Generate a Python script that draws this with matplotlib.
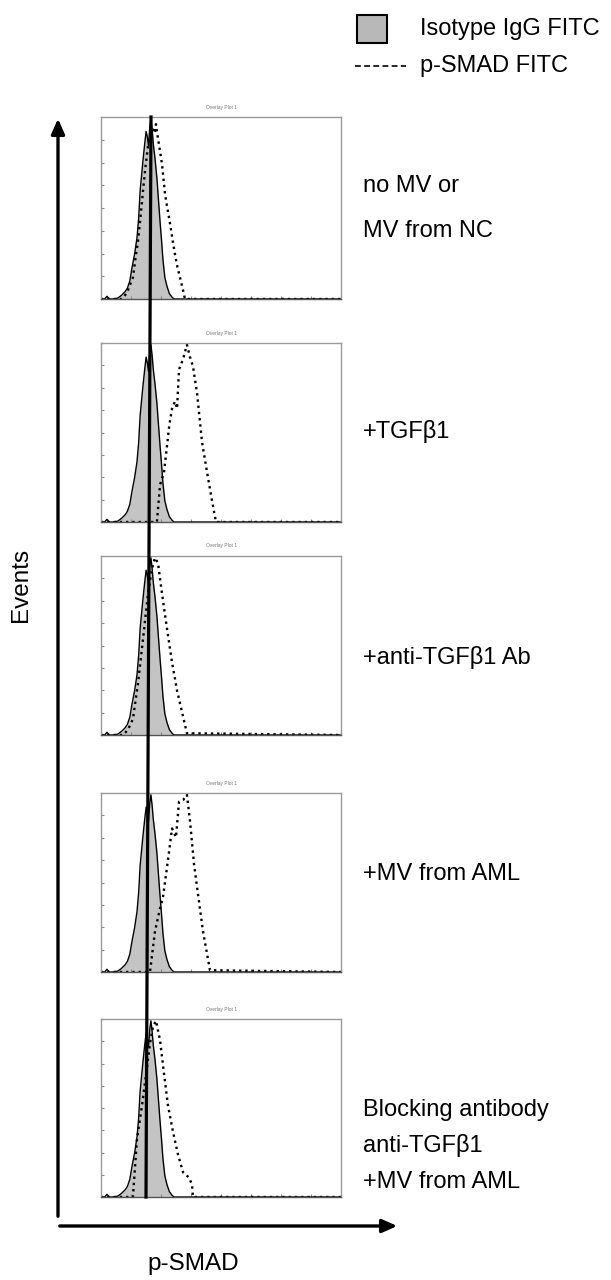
import numpy as np
import matplotlib
matplotlib.use('Agg')
import matplotlib.pyplot as plt
from matplotlib.patches import Rectangle

plt.rcParams['font.family'] = ['Liberation Sans', 'DejaVu Sans']

W, H = 611, 1280

# isotype control histogram (channel 0-100, % of max)
iso_u = [0, 1.5, 2.5, 3.5, 5, 7, 8.5, 10, 11, 12, 13, 14, 15, 15.7, 16.3, 17, 17.5, 18.2,
         18.8, 19.3, 19.8, 20.3, 20.8, 21.3, 21.8, 22.5, 23.3, 24, 24.6, 25.2, 25.8, 26.6,
         27.5, 28.5, 29.6, 30.4, 100]
iso_h = [0, 0, 1.5, 0, 0, 0.5, 2, 4, 6, 10, 18, 25, 34, 45, 60, 70, 77, 86,
         93, 90, 85, 95, 100, 94, 86, 78, 67, 54, 43, 33, 22, 12,
         7, 3, 1, 0, 0]

# p-SMAD histograms, one per condition
p1_u = [0, 8.75, 10, 11.25, 13.3, 14.3, 15.4, 16.5, 17.5, 18.5, 19.6, 20.6, 21.7, 22.3, 22.9,
        23.75, 24.6, 25.4, 26.7, 27.7, 28.75, 29.8, 30.8, 31.8, 32.9, 34, 35, 100]
p1_h = [0, 0, 2, 5, 12, 22, 32, 46, 60, 73, 85, 90, 94, 92, 97,
        89, 82, 75, 58, 50, 42, 33, 25, 18, 12, 6, 0, 0]

p2_u = [0, 23.3, 24.6, 26.25, 27.5, 28.5, 29.6, 30.8, 31.7, 32.5, 34.2, 35.8, 37.1, 38.3,
        40, 42.1, 44.2, 46.25, 47.9, 100]
p2_h = [0, 0, 21, 28, 43, 55, 64, 68, 64, 86, 92, 100, 93, 88,
        73, 45, 28, 12, 0, 0]

p3_u = [0, 9.2, 11.25, 13.3, 15.4, 17.5, 19.6, 21.25, 22.5, 23.75, 25.4, 27.5, 29.6, 31.7,
        33.75, 35.8, 100]
p3_h = [0, 0, 3, 9, 29, 54, 80, 94, 100, 97, 80, 60, 41, 25,
        13, 1, 0]

p4_u = [0, 20.4, 22.5, 24.6, 25.8, 27.5, 29.6, 31.25, 32.5, 34.2, 35.8, 37.1, 38.75, 40.4,
        42.5, 45.4, 100]
p4_h = [0, 0, 23, 36, 42, 59, 81, 76, 96, 97, 100, 85, 61, 44,
        23, 1, 0]

p5_u = [0, 13.3, 15, 17.1, 19.2, 20.4, 21.7, 22.9, 24.6, 26.25, 27.9, 30, 32.1, 34.2,
        36.7, 37.9, 38.3, 100]
p5_h = [0, 0, 33, 52, 74, 87, 97, 100, 89, 70, 52, 37, 24, 14,
        11, 7, 0, 0]

psmad_u = [p1_u, p2_u, p3_u, p4_u, p5_u]
psmad_h = [p1_h, p2_h, p3_h, p4_h, p5_h]

labels = [["no MV or", "MV from NC"],
          ["+TGF\u03b21"],
          ["+anti-TGF\u03b21 Ab"],
          ["+MV from AML"],
          ["Blocking antibody", "anti-TGF\u03b21", "+MV from AML"]]
label_y = [[192, 237], [438], [664], [880], [1116, 1152, 1188]]

panel_top = [117, 343, 556, 793, 1019]
panel_bot = [299, 522, 735, 972, 1197]
px_left, px_right = 101, 341

fig = plt.figure(figsize=(W / 100, H / 100), dpi=100)

for i in range(5):
    t, b = panel_top[i], panel_bot[i]
    ax = fig.add_axes([px_left / W, 1 - b / H, (px_right - px_left) / W, (b - t) / H])
    ax.fill_between(iso_u, iso_h, color='#c4c4c4', lw=0)
    ax.plot(iso_u, iso_h, color='black', lw=1.0)
    ax.plot(psmad_u[i], psmad_h[i], color='black', lw=1.7, ls=':')
    ax.set_xlim(0, 100)
    ax.set_ylim(0, 101)
    ax.set_xticks(np.linspace(0, 100, 9))
    ax.set_yticks(np.linspace(0, 101, 9))
    ax.tick_params(direction='in', length=2, color='#888888', labelbottom=False, labelleft=False)
    for s in ax.spines.values():
        s.set_color('#9a9a9a')
        s.set_linewidth(1)
    ax.spines['bottom'].set_color('#555555')
    fig.text((px_left + px_right) / 2 / W, 1 - (t - 10) / H, 'Overlay Plot 1',
             fontsize=3.5, color='#777777', ha='center', va='center')

ov = fig.add_axes([0, 0, 1, 1])
ov.set_xlim(0, W)
ov.set_ylim(H, 0)
ov.axis('off')

# axes arrows
ov.annotate('', xy=(58, 116), xytext=(58, 1219),
            arrowprops=dict(arrowstyle='-|>,head_length=0.9,head_width=0.4', lw=2.4, color='black'))
ov.annotate('', xy=(400, 1226), xytext=(57, 1226),
            arrowprops=dict(arrowstyle='-|>,head_length=0.9,head_width=0.4', lw=2.4, color='black'))

# thick reference line through all panels
ov.plot([151, 146], [117, 1197], color='black', lw=2.3)

for i in range(5):
    for txt, yy in zip(labels[i], label_y[i]):
        ov.text(363, yy, txt, fontsize=17, ha='left', va='baseline')

ov.text(21, 585, 'Events', fontsize=17.5, rotation=90, ha='center', va='center')
ov.text(147, 1270, 'p-SMAD', fontsize=17.5, ha='left', va='baseline')

# legend
ov.add_patch(Rectangle((357, 15), 30, 28, facecolor='#b8b8b8', edgecolor='black', lw=1.5))
ov.text(420, 35, 'Isotype IgG FITC', fontsize=17, ha='left', va='baseline')
ov.plot([355, 406], [66, 66], color='black', lw=1.2, dashes=(3.5, 2))
ov.text(420, 72, 'p-SMAD FITC', fontsize=17, ha='left', va='baseline')

fig.savefig('out.png', dpi=100)
